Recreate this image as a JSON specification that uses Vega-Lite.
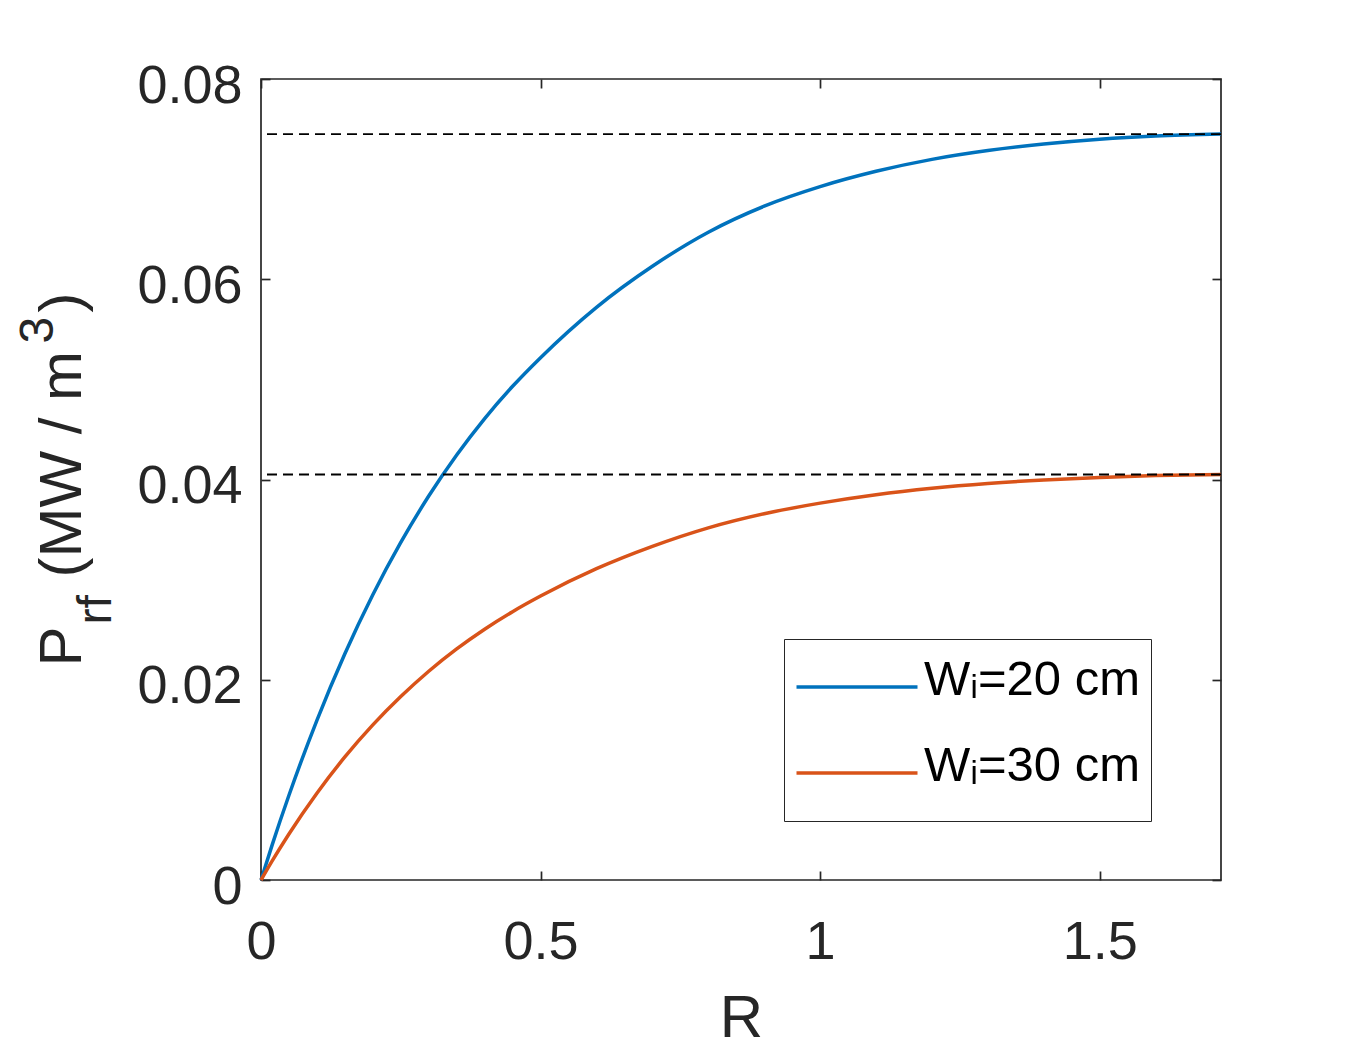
{
  "$schema": "https://vega.github.io/schema/vega-lite/v6.json",
  "description": "P_rf vs R for two widths W_i",
  "width": 960,
  "height": 801,
  "autosize": {"type": "none"},
  "padding": {"left": 261, "top": 79, "right": 129, "bottom": 170},
  "background": "white",
  "datasets": {
    "curves": [
      {"R": 0, "P": 0, "series": "Wᵢ=20 cm"},
      {"R": 0.02, "P": 0.00351, "series": "Wᵢ=20 cm"},
      {"R": 0.05, "P": 0.00846, "series": "Wᵢ=20 cm"},
      {"R": 0.1, "P": 0.01595, "series": "Wᵢ=20 cm"},
      {"R": 0.15, "P": 0.0226, "series": "Wᵢ=20 cm"},
      {"R": 0.2, "P": 0.02849, "series": "Wᵢ=20 cm"},
      {"R": 0.25, "P": 0.03371, "series": "Wᵢ=20 cm"},
      {"R": 0.3, "P": 0.03835, "series": "Wᵢ=20 cm"},
      {"R": 0.35, "P": 0.04245, "series": "Wᵢ=20 cm"},
      {"R": 0.4, "P": 0.04609, "series": "Wᵢ=20 cm"},
      {"R": 0.45, "P": 0.04931, "series": "Wᵢ=20 cm"},
      {"R": 0.5, "P": 0.05217, "series": "Wᵢ=20 cm"},
      {"R": 0.6, "P": 0.0572, "series": "Wᵢ=20 cm"},
      {"R": 0.7, "P": 0.0613, "series": "Wᵢ=20 cm"},
      {"R": 0.8, "P": 0.0647, "series": "Wᵢ=20 cm"},
      {"R": 0.9, "P": 0.0673, "series": "Wᵢ=20 cm"},
      {"R": 1.0, "P": 0.06925, "series": "Wᵢ=20 cm"},
      {"R": 1.1, "P": 0.07078, "series": "Wᵢ=20 cm"},
      {"R": 1.2, "P": 0.07197, "series": "Wᵢ=20 cm"},
      {"R": 1.3, "P": 0.07285, "series": "Wᵢ=20 cm"},
      {"R": 1.4, "P": 0.0735, "series": "Wᵢ=20 cm"},
      {"R": 1.5, "P": 0.07398, "series": "Wᵢ=20 cm"},
      {"R": 1.6, "P": 0.0743, "series": "Wᵢ=20 cm"},
      {"R": 1.717, "P": 0.0745, "series": "Wᵢ=20 cm"},
      {"R": 0, "P": 0, "series": "Wᵢ=30 cm"},
      {"R": 0.02, "P": 0.00191, "series": "Wᵢ=30 cm"},
      {"R": 0.05, "P": 0.0046, "series": "Wᵢ=30 cm"},
      {"R": 0.1, "P": 0.00867, "series": "Wᵢ=30 cm"},
      {"R": 0.15, "P": 0.01229, "series": "Wᵢ=30 cm"},
      {"R": 0.2, "P": 0.01549, "series": "Wᵢ=30 cm"},
      {"R": 0.25, "P": 0.01832, "series": "Wᵢ=30 cm"},
      {"R": 0.3, "P": 0.02085, "series": "Wᵢ=30 cm"},
      {"R": 0.35, "P": 0.02308, "series": "Wᵢ=30 cm"},
      {"R": 0.4, "P": 0.02505, "series": "Wᵢ=30 cm"},
      {"R": 0.45, "P": 0.0268, "series": "Wᵢ=30 cm"},
      {"R": 0.5, "P": 0.02836, "series": "Wᵢ=30 cm"},
      {"R": 0.6, "P": 0.03109, "series": "Wᵢ=30 cm"},
      {"R": 0.7, "P": 0.03332, "series": "Wᵢ=30 cm"},
      {"R": 0.8, "P": 0.03517, "series": "Wᵢ=30 cm"},
      {"R": 0.9, "P": 0.03658, "series": "Wᵢ=30 cm"},
      {"R": 1.0, "P": 0.03764, "series": "Wᵢ=30 cm"},
      {"R": 1.1, "P": 0.03848, "series": "Wᵢ=30 cm"},
      {"R": 1.2, "P": 0.03912, "series": "Wᵢ=30 cm"},
      {"R": 1.3, "P": 0.0396, "series": "Wᵢ=30 cm"},
      {"R": 1.4, "P": 0.03995, "series": "Wᵢ=30 cm"},
      {"R": 1.5, "P": 0.04021, "series": "Wᵢ=30 cm"},
      {"R": 1.6, "P": 0.04039, "series": "Wᵢ=30 cm"},
      {"R": 1.717, "P": 0.0405, "series": "Wᵢ=30 cm"}
    ],
    "limits": [
      {"P": 0.0745},
      {"P": 0.0405}
    ]
  },
  "layer": [
    {
      "data": {"name": "curves"},
      "mark": {"type": "line", "strokeWidth": 3.5, "interpolate": "monotone"},
      "encoding": {
        "x": {
          "field": "R",
          "type": "quantitative",
          "scale": {"domain": [0, 1.717], "nice": false, "zero": false},
          "axis": {
            "orient": "bottom",
            "values": [0, 0.5, 1, 1.5],
            "format": "~g",
            "tickSize": -9,
            "labelFontSize": 54,
            "labelPadding": 44,
            "labelFlush": false,
            "title": "R",
            "titleFontSize": 60,
            "titleBaseline": "alphabetic",
            "titleY": 156
          }
        },
        "y": {
          "field": "P",
          "type": "quantitative",
          "scale": {"domain": [0, 0.08], "nice": false},
          "axis": {
            "orient": "left",
            "values": [0, 0.02, 0.04, 0.06, 0.08],
            "format": "~g",
            "tickSize": -9,
            "labelFontSize": 54,
            "labelPadding": 28,
            "labelBaseline": "line-top",
            "labelLineHeight": 15,
            "labelFlush": false,
            "title": "P",
            "titleFontSize": 60,
            "titleAngle": 270,
            "titleAlign": "left",
            "titleBaseline": "alphabetic",
            "titleX": -181,
            "titleY": 587
          }
        },
        "color": {
          "field": "series",
          "type": "nominal",
          "scale": {"domain": ["Wᵢ=20 cm", "Wᵢ=30 cm"], "range": ["#0072BD", "#D95319"]},
          "legend": {
            "title": null,
            "orient": "none",
            "legendX": 523,
            "legendY": 560,
            "padding": 10.5,
            "fillColor": "white",
            "strokeColor": "#262626",
            "symbolType": "stroke",
            "symbolSize": 14641,
            "symbolStrokeWidth": 3.5,
            "clipHeight": 75,
            "rowPadding": 11,
            "labelOffset": 4.5,
            "labelFontSize": 49,
            "labelColor": "#000000",
            "labelBaseline": "line-bottom",
            "labelLimit": 500
          }
        }
      }
    },
    {
      "data": {"name": "limits"},
      "mark": {"type": "rule", "color": "#000000", "strokeWidth": 1.8, "strokeDash": [10, 6]},
      "encoding": {
        "y": {
          "field": "P",
          "type": "quantitative",
          "axis": {
            "orient": "right",
            "values": [0, 0.02, 0.04, 0.06, 0.08],
            "labels": false,
            "tickSize": -9,
            "title": null
          }
        }
      }
    },
    {
      "data": {"name": "curves"},
      "mark": {"type": "line", "strokeOpacity": 0},
      "encoding": {
        "x": {
          "field": "R",
          "type": "quantitative",
          "axis": {
            "orient": "top",
            "values": [0, 0.5, 1, 1.5],
            "labels": false,
            "tickSize": -9,
            "title": null
          }
        },
        "y": {
          "field": "P",
          "type": "quantitative",
          "axis": {
            "orient": "left",
            "labels": false,
            "ticks": false,
            "title": "rf",
            "titleFontSize": 48,
            "titleAngle": 270,
            "titleAlign": "left",
            "titleBaseline": "alphabetic",
            "titleX": -151,
            "titleY": 545
          }
        },
        "detail": {"field": "series"}
      }
    },
    {
      "data": {"name": "limits"},
      "mark": {"type": "rule", "strokeOpacity": 0},
      "encoding": {
        "y": {
          "field": "P",
          "type": "quantitative",
          "axis": {
            "orient": "left",
            "labels": false,
            "ticks": false,
            "title": "(MW / m",
            "titleFontSize": 60,
            "titleAngle": 270,
            "titleAlign": "left",
            "titleBaseline": "alphabetic",
            "titleX": -181,
            "titleY": 498
          }
        }
      }
    },
    {
      "data": {"name": "limits"},
      "mark": {"type": "rule", "strokeOpacity": 0},
      "encoding": {
        "y": {
          "field": "P",
          "type": "quantitative",
          "axis": {
            "orient": "left",
            "labels": false,
            "ticks": false,
            "title": "3",
            "titleFontSize": 48,
            "titleAngle": 270,
            "titleAlign": "left",
            "titleBaseline": "alphabetic",
            "titleX": -209,
            "titleY": 264
          }
        }
      }
    },
    {
      "data": {"name": "limits"},
      "mark": {"type": "rule", "strokeOpacity": 0},
      "encoding": {
        "y": {
          "field": "P",
          "type": "quantitative",
          "axis": {
            "orient": "left",
            "labels": false,
            "ticks": false,
            "title": ")",
            "titleFontSize": 60,
            "titleAngle": 270,
            "titleAlign": "left",
            "titleBaseline": "alphabetic",
            "titleX": -181,
            "titleY": 233
          }
        }
      }
    }
  ],
  "resolve": {"axis": {"x": "independent", "y": "independent"}},
  "config": {
    "font": "Liberation Sans",
    "view": {"stroke": "#262626", "strokeWidth": 1.7},
    "style": {"guide-label": {"lineHeight": 12}},
    "axis": {
      "grid": false,
      "domain": false,
      "labelColor": "#262626",
      "tickColor": "#262626",
      "tickWidth": 1.7,
      "titleColor": "#262626",
      "titleFontWeight": "normal"
    }
  }
}
